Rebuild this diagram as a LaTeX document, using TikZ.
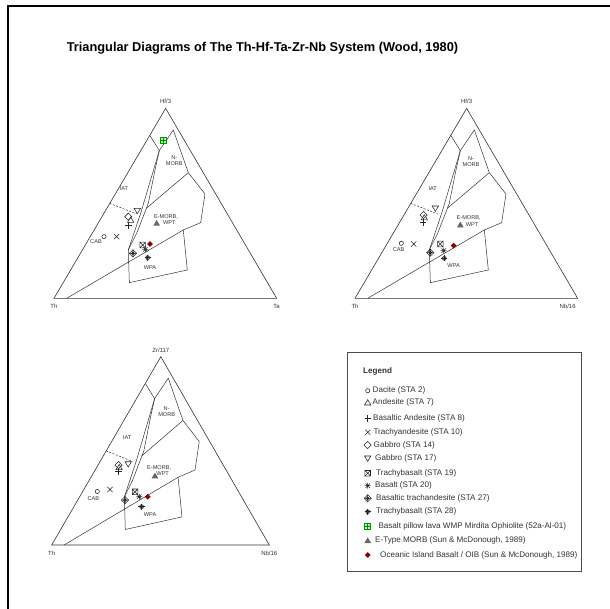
\documentclass[tikz,border=0pt]{standalone}
\usepackage{fontspec}
\setmainfont{Liberation Sans}
\tikzset{
 tri/.style={draw=black!80, line width=0.6pt},
 fld/.style={draw=black!80, line width=0.5pt},
 mk/.style={draw=black!85, line width=0.55pt},
 lab/.style={font=\fontsize{5.6}{6.2}\selectfont, inner sep=0pt, align=center, text=black!80},
 clab/.style={font=\fontsize{6}{7}\selectfont, inner sep=0pt, text=black!80},
 leg/.style={font=\fontsize{8.1}{9}\selectfont, anchor=west, inner sep=0pt, text=black!80},
}
% markers
\newcommand\mkCirc[1]{\draw[mk] (#1) circle[radius=2.1pt];}
\newcommand\mkTriUp[1]{\draw[mk] (#1) ++(0pt,3pt) -- ++(-3.2pt,-5.3pt) -- ++(6.4pt,0pt) -- cycle;}
\newcommand\mkTriDn[1]{\draw[mk] (#1) ++(0pt,-3pt) -- ++(-3.2pt,5.3pt) -- ++(6.4pt,0pt) -- cycle;}
\newcommand\mkPlus[1]{\draw[mk] (#1) ++(-3.2pt,0pt) -- ++(6.4pt,0pt) (#1) ++(0pt,-3.2pt) -- ++(0pt,6.4pt);}
\newcommand\mkCross[1]{\draw[mk] (#1) ++(-2.6pt,-2.6pt) -- ++(5.2pt,5.2pt) (#1) ++(-2.6pt,2.6pt) -- ++(5.2pt,-5.2pt);}
\newcommand\mkDiam[1]{\draw[mk] (#1) ++(0pt,3.6pt) -- ++(-3.6pt,-3.6pt) -- ++(3.6pt,-3.6pt) -- ++(3.6pt,3.6pt) -- cycle;}
\newcommand\mkBoxX[1]{\draw[mk] (#1) ++(-2.8pt,-2.8pt) rectangle ++(5.6pt,5.6pt) (#1) ++(-2.8pt,-2.8pt) -- ++(5.6pt,5.6pt) (#1) ++(-2.8pt,2.8pt) -- ++(5.6pt,-5.6pt);}
\newcommand\mkStar[1]{\draw[mk] (#1) ++(-3pt,0pt) -- ++(6pt,0pt) (#1) ++(0pt,-3pt) -- ++(0pt,6pt) (#1) ++(-2.2pt,-2.2pt) -- ++(4.4pt,4.4pt) (#1) ++(-2.2pt,2.2pt) -- ++(4.4pt,-4.4pt);}
\newcommand\mkDiamPlus[1]{\mkDiam{#1}\draw[mk] (#1) circle[radius=1.6pt] (#1) ++(-3.6pt,0pt) -- ++(7.2pt,0pt) (#1) ++(0pt,-3.6pt) -- ++(0pt,7.2pt);}
\newcommand\mkCircPlus[1]{\draw[mk, fill=black!45] (#1) circle[radius=2pt]; \draw[mk] (#1) ++(-3.1pt,0pt) -- ++(6.2pt,0pt) (#1) ++(0pt,-3.1pt) -- ++(0pt,6.2pt);}
\newcommand\mkGreen[1]{\draw[draw=green!60!black, fill=green!35, line width=0.55pt] (#1) ++(-3pt,-3pt) rectangle ++(6pt,6pt); \draw[green!55!black, line width=0.45pt] (#1) ++(-3pt,0pt) -- ++(6pt,0pt) (#1) ++(0pt,-3pt) -- ++(0pt,6pt);}
\newcommand\mkGrayTri[1]{\fill[black!60] (#1) ++(0pt,3.3pt) -- ++(-3.4pt,-5.7pt) -- ++(6.8pt,0pt) -- cycle;}
\newcommand\mkRed[1]{\fill[red!55!black] (#1) ++(0pt,2.9pt) -- ++(-2.9pt,-2.9pt) -- ++(2.9pt,-2.9pt) -- ++(2.9pt,2.9pt) -- cycle;}
% ternary frame and fields: #1 prefix, #2 apex label, #3 right label, #4 x of right label
\newcommand\ternary[4]{%
 \draw[tri] (42,625) -- (377,55) -- (710,625) -- cycle;
 \node[clab] (#1Th) at (42,650) {Th};
 \node[clab] (#1R) at (#4,650) {#3};
 \node[clab] (#1A) at (377,35) {#2};
 \draw[fld] (330,137) -- (358,182);
 \draw[fld] (358,182) -- (302,370) -- (265,480);
 \draw[fld] (445,248) -- (400,120) -- (358,182) -- (345,240) -- (325,340) -- (290,430) -- (265,480);
 \draw[fld] (445,248) -- (319,355);
 \draw[fld] (445,248) -- (495,312) -- (482,398) -- (430,420);
 \draw[fld] (80,625) -- (430,420) -- (442,540) -- (268,578) -- (265,480);
 \draw[fld, dash pattern=on 2pt off 1.5pt] (209,340) -- (290,372);
}
\begin{document}
\begin{tikzpicture}[x=1pt,y=-1pt]
\useasboundingbox (0,0) rectangle (610,609);
\fill[white] (0,0) rectangle (610,609);
\draw[line width=2pt] (7.5,609) -- (7.5,6.5) -- (610,6.5);
\node[font=\bfseries\fontsize{12.8}{14}\selectfont] (title) at (262.5,48) {Triangular Diagrams of The Th-Hf-Ta-Zr-Nb System (Wood, 1980)};

% ---------- diagram 1: Th - Hf/3 - Ta
\begin{scope}[shift={(40pt,-90pt)}, x=0.3333pt, y=-0.3333pt]
 \ternary{a}{Hf/3}{Ta}{710}
 \node[lab] (aN) at (403,213) {N-\\MORB};
 \node[lab] (aI) at (252,295) {IAT};
 \node[lab] (aE) at (378,388) {E-MORB,\\\hspace*{1.2em}WPT};
 \node[lab] (aC) at (168,455) {CAB};
 \node[lab] (aW) at (330,532) {WPA};
 \mkGreen{370,150}
 \mkTriDn{292,362}
 \mkDiam{265,380}
 \mkTriUp{272,390}
 \mkPlus{266,406}
 \mkCirc{192,440}
 \mkCross{230,440}
 \mkBoxX{308,465}
 \mkRed{330,462}
 \mkStar{316,478}
 \mkDiamPlus{279,490}
 \mkCircPlus{323,503}
 \mkGrayTri{350,400}
\end{scope}

% ---------- diagram 2: Th - Hf/3 - Nb/16
\begin{scope}[shift={(341pt,-90pt)}, x=0.3333pt, y=-0.3333pt]
 \ternary{b}{Hf/3}{Nb/16}{680}
 \node[lab] (bN) at (390,214) {N-\\MORB};
 \node[lab] (bI) at (275,295) {IAT};
 \node[lab] (bE) at (383,393) {E-MORB,\\\hspace*{1.2em}WPT};
 \node[lab] (bC) at (173,480) {CAB};
 \node[lab] (bW) at (338,528) {WPA};
 \mkTriDn{283,355}
 \mkDiam{248,375}
 \mkTriUp{250,383}
 \mkPlus{246,397}
 \mkCirc{181,460}
 \mkCross{218,462}
 \mkBoxX{298,462}
 \mkRed{338,467}
 \mkStar{308,482}
 \mkDiamPlus{268,488}
 \mkCircPlus{310,505}
 \mkGrayTri{358,405}
\end{scope}

% ---------- diagram 3: Th - Zr/117 - Nb/16
\begin{scope}[shift={(38.02pt,-338.5pt)}, x=0.3257pt, y=-0.3304pt]
 \ternary{c}{Zr/117}{Nb/16}{710}
 \node[lab] (cN) at (395,222) {N-\\MORB};
 \node[lab] (cI) at (274,299) {IAT};
 \node[lab] (cE) at (372,400) {E-MORB,\\\hspace*{1.2em}WPT};
 \node[lab] (cC) at (170,484) {CAB};
 \node[lab] (cW) at (344,532) {WPA};
 \mkTriDn{277,380}
 \mkDiam{247,383}
 \mkTriUp{249,390}
 \mkPlus{247,403}
 \mkCirc{182,463}
 \mkCross{221,457}
 \mkBoxX{298,464}
 \mkRed{337,479}
 \mkStar{311,479}
 \mkDiamPlus{267,489}
 \mkCircPlus{318,509}
 \mkGrayTri{359,416}
\end{scope}

% ---------- legend
\draw[black!70, line width=0.8pt] (347,352) rectangle (581,571);
\node[leg, font=\bfseries\fontsize{8.1}{9}\selectfont] (lhead) at (363,371.7) {Legend};
\mkCirc{367.7,390.7}     \node[leg] (l1) at (372.5,390.7) {Dacite (STA 2)};
\mkTriUp{367.7,402.7}    \node[leg] (l2) at (372.5,402.7) {Andesite (STA 7)};
\mkPlus{367.7,418.3}     \node[leg] (l3) at (373,418.3) {Basaltic Andesite (STA 8)};
\mkCross{367.7,432.3}    \node[leg] (l4) at (373.3,432.3) {Trachyandesite (STA 10)};
\mkDiam{367.7,445}       \node[leg] (l5) at (373.5,445) {Gabbro (STA 14)};
\mkTriDn{367.7,458.3}    \node[leg] (l6) at (375,458.3) {Gabbro (STA 17)};
\mkBoxX{367.7,473.3}     \node[leg] (l7) at (376,473.3) {Trachybasalt (STA 19)};
\mkStar{367.7,485.7}     \node[leg] (l8) at (375,485.7) {Basalt (STA 20)};
\mkDiamPlus{367.7,498.3} \node[leg] (l9) at (376,498.3) {Basaltic trachandesite (STA 27)};
\mkCircPlus{367.7,511.7} \node[leg] (l10) at (376,511.7) {Trachybasalt (STA 28)};
\mkGreen{367.7,526.7}    \node[leg] (l11) at (378.3,526.7) {Basalt pillow lava WMP Mirdita Ophiolite (52a-Al-01)};
\mkGrayTri{367.7,540.7}  \node[leg] (l12) at (375,540.7) {E-Type MORB (Sun \& McDonough, 1989)};
\mkRed{367.7,555}        \node[leg] (l13) at (380,555) {Oceanic Island Basalt / OIB (Sun \& McDonough, 1989)};
\end{tikzpicture}
\end{document}
